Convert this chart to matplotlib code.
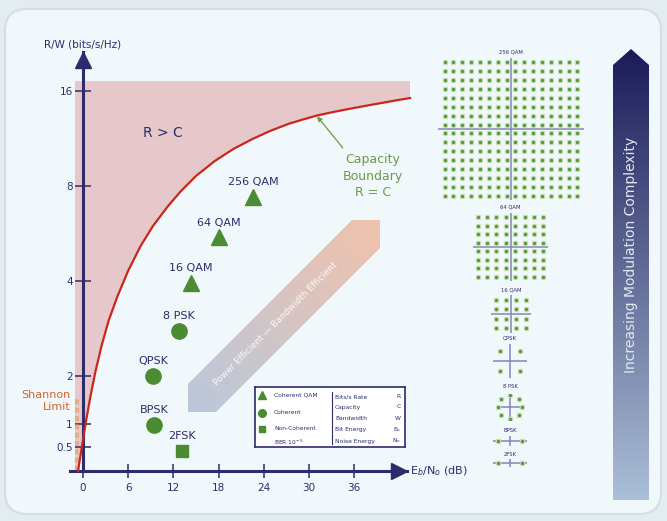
import numpy as np
import matplotlib
matplotlib.use('Agg')
import matplotlib.pyplot as plt
from matplotlib.patches import FancyBboxPatch, Polygon

W, H = 667, 521
NAVY = '#2c2c6c'
GREEN = '#4b8c32'
RED = '#c8281c'

# modulation schemes: Eb/N0 [dB] and spectral efficiency R/W [bits/s/Hz]
mod_names = ['256 QAM', '64 QAM', '16 QAM', '8 PSK', 'QPSK', 'BPSK', '2FSK']
mod_ebno = [22.6, 18.1, 14.3, 12.7, 9.3, 9.4, 13.1]
mod_rate = [7.4, 5.5, 3.94, 2.78, 2.0, 0.97, 0.42]
mod_marker = ['^', '^', '^', 'o', 'o', 'o', 's']
mod_size = {'^': 11, 'o': 11, 's': 9}

# capacity boundary R = C, as drawn
cap_ebno = [-0.66, -0.13, 0.40, 1.0, 1.66, 2.46, 3.39, 4.58, 5.98, 7.64, 9.30, 11.29,
            13.01, 15.01, 17.50, 19.97, 22.50, 24.83, 27.25, 29.22, 31.08, 33.07,
            35.06, 37.18, 39.44, 41.43, 43.43]
cap_rate = [0.0, 0.53, 1.05, 1.58, 2.07, 2.49, 2.99, 3.58, 4.30, 5.16, 5.98, 6.91,
            7.71, 8.61, 9.60, 10.48, 11.27, 11.95, 12.58, 13.0, 13.38, 13.70,
            14.0, 14.31, 14.63, 14.92, 15.2]

x_ticks = [0, 6, 12, 18, 24, 30, 36]
y_ticks = [0.5, 1, 2, 4, 8, 16]
y_ticklabels = ['0.5', '1', '2', '4', '8', '16']

legend_left = ['Coherent QAM', 'Coherent', 'Non-Coherent', r'BER 10$^{-5}$']
legend_right = ['Bits/s Rate', 'Capacity', 'Bandwidth', 'Bit Energy', 'Noise Energy']
legend_sym = ['R', 'C', 'W', r'E$_b$', r'N$_o$']

# constellation levels
qam256_levels = [-15, -13, -11, -9, -7, -5, -3, -1, 1, 3, 5, 7, 9, 11, 13, 15]
qam64_levels = [-7, -5, -3, -1, 1, 3, 5, 7]
qam16_levels = [-3, -1, 1, 3]
qpsk_levels = [-1, 1]
psk8_angles = [0, 45, 90, 135, 180, 225, 270, 315]
bpsk_points = [-1.2, 1.2]


def fwd(r):
    r = np.asarray(r, dtype=float)
    return np.where(r <= 2, r, 2 + 2 * np.log2(np.maximum(r, 2) / 2))


def inv(t):
    t = np.asarray(t, dtype=float)
    return np.where(t <= 2, t, 2 * 2 ** ((np.maximum(t, 2) - 2) / 2))


def px_axes(fig, x0, y0, x1, y1, **kw):
    # rect in pixels, measured from the top-left corner
    return fig.add_axes([x0 / W, 1 - y1 / H, (x1 - x0) / W, (y1 - y0) / H], **kw)


def gradient_poly(ax, verts, c0, c1, diagonal=False):
    poly = Polygon(verts, closed=True, fc='none', ec='none')
    ax.add_patch(poly)
    xs = [v[0] for v in verts]
    ys = [v[1] for v in verts]
    gx, gy = np.meshgrid(np.linspace(0, 1, 256), np.linspace(0, 1, 256))
    t = (gx + 1 - gy) / 2 if diagonal else gy
    img = (1 - t)[..., None] * np.array(c0) + t[..., None] * np.array(c1)
    im = ax.imshow(img, extent=(min(xs), max(xs), max(ys), min(ys)), zorder=2,
                   origin='upper', aspect='auto', interpolation='bilinear')
    im.set_clip_path(poly)


def hexrgb(c):
    return matplotlib.colors.to_rgb(c)


fig = plt.figure(figsize=(W / 100, H / 100), dpi=100, facecolor='#e2ecf1')

# background panel and decorative arrows (pixel space)
bg = fig.add_axes([0, 0, 1, 1], zorder=0)
bg.add_patch(FancyBboxPatch((5, 9), 656, 505, boxstyle='round,pad=0,rounding_size=22',
                            fc='#f1f8fb', ec='#d3dee5', lw=1.5, zorder=1))
gradient_poly(bg, [(352, 220), (380, 220), (380, 248), (216, 412), (188, 412), (188, 384)],
              hexrgb('#b9c8dc'), hexrgb('#f1c2ab'), diagonal=True)
bg.text(276, 324, 'Power Efficient \u2014 Bandwidth Efficient', rotation=45,
        ha='center', va='center', fontsize=6.5, color='white', alpha=0.9, zorder=3)
gradient_poly(bg, [(613, 500), (613, 65), (631, 49), (649, 65), (649, 500)],
              hexrgb('#1b1b58'), hexrgb('#abbfd7'))
bg.text(631, 255, 'Increasing Modulation Complexity', rotation=90,
        ha='center', va='center', fontsize=10, color='#e2e8f3', zorder=3)
bg.set_xlim(0, W)
bg.set_ylim(H, 0)
bg.axis('off')

# main chart
ax = px_axes(fig, 70, 52, 407, 471, zorder=2)
ax.patch.set_visible(False)
ax.set_xlim((70 - 83) / 7.53, (407 - 83) / 7.53)
ax.set_yscale('function', functions=(fwd, inv))
ax.set_ylim(0, float(inv(419 / 47.5)))

left_edge = -1.06
top_rate = float(inv(8.21))
ax.fill([left_edge] + cap_ebno + [cap_ebno[-1], left_edge],
        [0] + cap_rate + [top_rate, top_rate],
        color='#e6c8ca', lw=0, zorder=1, clip_on=False)
ax.plot([-0.85, -0.85], [0, 1.55], color='#eba070', lw=3, alpha=0.75,
        ls=(0, (1.2, 0.8)), zorder=2)
ax.plot(cap_ebno, cap_rate, color=RED, lw=1.6, zorder=3, clip_on=False,
        solid_joinstyle='round')

for m in ['^', 'o', 's']:
    xs = [x for x, k in zip(mod_ebno, mod_marker) if k == m]
    ys = [y for y, k in zip(mod_rate, mod_marker) if k == m]
    ax.plot(xs, ys, ls='none', marker=m, ms=mod_size[m], color=GREEN,
            zorder=5, clip_on=False)
for name, x, y in zip(mod_names, mod_ebno, mod_rate):
    ax.annotate(name, (x, y), xytext=(0, 10.5), textcoords='offset points',
                ha='center', va='center', fontsize=8, color=NAVY)

ax.text(10.6, 11.8, 'R > C', ha='center', va='center', fontsize=10, color=NAVY)
ax.text(38.5, 8.6, 'Capacity\nBoundary\nR = C', ha='center', va='center',
        fontsize=9, color='#6c9a45', linespacing=1.35)
ax.annotate('', xy=(31.1, 13.3), xytext=(34.5, 10.56),
            arrowprops=dict(arrowstyle='-|>', color='#6c9a45', lw=0.9,
                            mutation_scale=7, shrinkA=0, shrinkB=0))
ax.text(-1.6, 1.47, 'Shannon\nLimit', ha='right', va='center', fontsize=8,
        color='#d2642c', multialignment='right', linespacing=1.25)

for side in ['top', 'right']:
    ax.spines[side].set_visible(False)
for side in ['left', 'bottom']:
    ax.spines[side].set_position(('data', 0))
    ax.spines[side].set_color(NAVY)
    ax.spines[side].set_linewidth(2.2)
ax.set_xticks(x_ticks)
ax.set_yticks(y_ticks)
ax.set_yticklabels(y_ticklabels)
ax.tick_params(axis='y', direction='inout', length=12, width=1.1, color=NAVY,
               labelcolor=NAVY, labelsize=7.5, pad=1.5)
ax.tick_params(axis='x', direction='inout', length=9.5, width=1.1, color=NAVY,
               labelcolor=NAVY, labelsize=7.5, pad=4)
ax.minorticks_off()

ax.plot([0], [0.981], marker='^', ms=11.5, color=NAVY,
        transform=ax.get_xaxis_transform(), clip_on=False, zorder=6)
ax.plot([0.975], [0], marker='>', ms=12, color=NAVY,
        transform=ax.get_yaxis_transform(), clip_on=False, zorder=6)
ax.text(0, 1.017, 'R/W (bits/s/Hz)', transform=ax.get_xaxis_transform(),
        ha='center', va='center', fontsize=7.5, color=NAVY)
ax.text(1.01, 0, r'E$_b$/N$_o$ (dB)', transform=ax.get_yaxis_transform(),
        ha='left', va='center', fontsize=8, color=NAVY)

# legend box
lg = px_axes(fig, 255, 387, 405, 447, zorder=4)
lg.set_xlim(0, 150)
lg.set_ylim(60, 0)
lg.set_xticks([])
lg.set_yticks([])
lg.set_facecolor('white')
for s in lg.spines.values():
    s.set_color(NAVY)
    s.set_linewidth(1.2)
for m, y in zip(['^', 'o', 's'], [8, 26, 42]):
    lg.plot([7], [y], marker=m, ms=mod_size[m] * 0.5, color=GREEN)
for txt, y in zip(legend_left, [8, 26, 42, 55]):
    lg.text(19, y, txt, fontsize=4.3, color=NAVY, va='center')
lg.plot([77, 77], [5, 57], color=NAVY, lw=0.8)
for txt, sym, y in zip(legend_right, legend_sym, [10, 20, 31, 43, 54]):
    lg.text(80, y, txt, fontsize=4.3, color=NAVY, va='center')
    lg.text(146, y, sym, fontsize=4.3, color=NAVY, va='center', ha='right')


# constellations
def constellation(rect, i_vals, q_vals, lim, title, title_y):
    a = px_axes(fig, *rect, zorder=2)
    a.patch.set_visible(False)
    a.axis('off')
    a.set_xlim(-lim[0], lim[0])
    a.set_ylim(-lim[1], lim[1])
    a.axhline(0, color='#8484b6', lw=1.1, zorder=1)
    a.axvline(0, color='#8484b6', lw=1.1, zorder=1)
    a.plot(i_vals, q_vals, ls='none', marker='s', ms=3.0, color='#d2e3c4', zorder=2)
    a.plot(i_vals, q_vals, ls='none', marker='o', ms=1.5, color='#5a9a3a', zorder=3)
    fig.text((rect[0] + rect[2]) / 2 / W, 1 - title_y / H, title, ha='center',
             va='center', fontsize=3.8, color=NAVY)


gi, gq = np.meshgrid(qam256_levels, qam256_levels)
constellation((438, 58, 584, 200), gi.ravel(), gq.ravel(), (16.5, 16), '256 QAM', 52)
gi, gq = np.meshgrid(qam64_levels, qam64_levels)
constellation((473, 213, 548, 281), gi.ravel(), gq.ravel(), (8, 8), '64 QAM', 207)
gi, gq = np.meshgrid(qam16_levels, qam16_levels)
constellation((491, 295, 531, 333), gi.ravel(), gq.ravel(), (4, 4), '16 QAM', 290)
gi, gq = np.meshgrid(qpsk_levels, qpsk_levels)
constellation((493, 344, 527, 378), gi.ravel(), gq.ravel(), (1.7, 1.7), 'QPSK', 338)
ang = np.deg2rad(psk8_angles)
constellation((496, 394, 524, 420), np.cos(ang), np.sin(ang), (1.15, 1.1), '8 PSK', 387)
constellation((493, 436, 527, 446), bpsk_points, [0, 0], (1.7, 1), 'BPSK', 431)
constellation((493, 459, 527, 467), bpsk_points, [0, 0], (1.7, 1), '2FSK', 455)

fig.savefig('out.png', dpi=100, facecolor=fig.get_facecolor())
